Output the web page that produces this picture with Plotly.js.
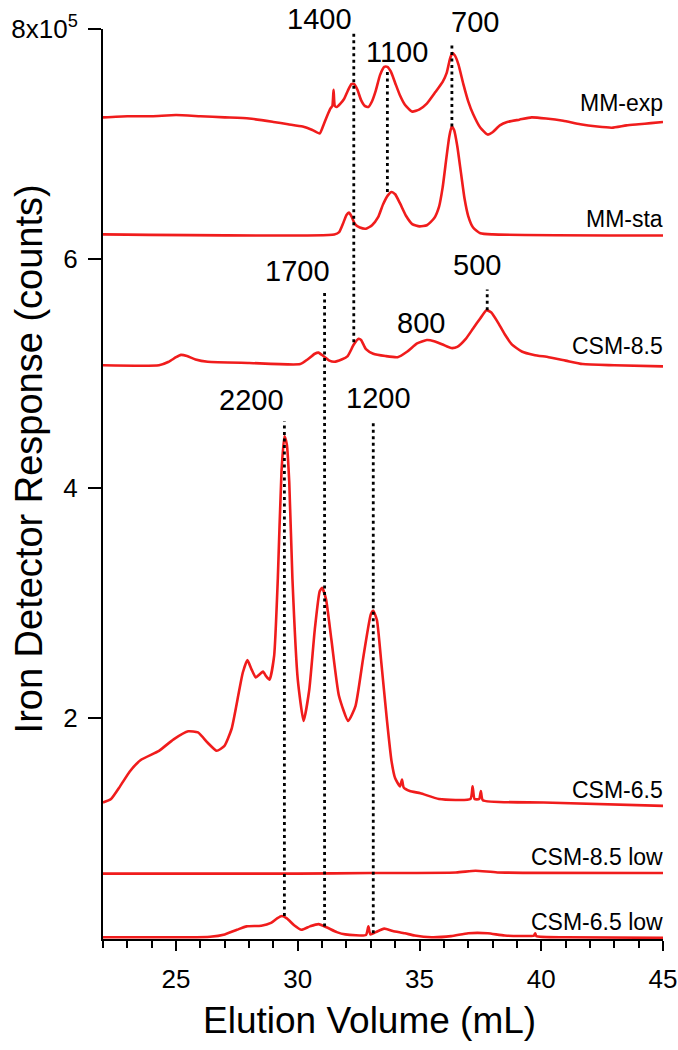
<!DOCTYPE html>
<html>
<head>
<meta charset="utf-8">
<script src="https://cdn.plot.ly/plotly-3.0.1.min.js"></script>
<style>
html,body{margin:0;padding:0;background:#ffffff;}
#chart{width:678px;height:1050px;}
</style>
</head>
<body>
<div id="chart"></div>
<script>
// ---- Data (elution volume in mL, response in units of 10^5 counts) ----
const mmExpX = [22,23,24,25,26,27,28,29,29.6,30.2,30.6,30.9,31.05,31.2,31.35,31.42,31.47,31.52,31.6,31.75,31.9,32.05,32.2,32.32,32.45,32.6,32.75,32.9,33.05,33.2,33.38,33.55,33.68,33.82,34.0,34.2,34.4,34.7,35.0,35.3,35.65,35.95,36.12,36.25,36.35,36.45,36.6,36.8,37.0,37.2,37.5,37.8,38.0,38.3,38.6,39.1,39.6,40.2,40.9,41.6,42.3,42.9,43.5,44.0,44.5,45];
const mmExpY = [7.23,7.24,7.24,7.25,7.24,7.23,7.22,7.19,7.17,7.15,7.12,7.09,7.16,7.24,7.31,7.33,7.47,7.33,7.32,7.35,7.39,7.46,7.52,7.52,7.47,7.38,7.33,7.32,7.37,7.46,7.60,7.67,7.67,7.63,7.53,7.42,7.34,7.28,7.30,7.35,7.45,7.54,7.62,7.74,7.79,7.77,7.69,7.52,7.37,7.26,7.14,7.08,7.10,7.16,7.19,7.21,7.23,7.22,7.20,7.17,7.15,7.14,7.16,7.17,7.18,7.19];

const mmStaX = [22,31.5,31.7,31.85,32.0,32.1,32.2,32.35,32.55,32.8,33.05,33.3,33.5,33.7,33.85,34.0,34.2,34.45,34.7,35.0,35.3,35.6,35.8,35.95,36.1,36.22,36.32,36.42,36.55,36.7,36.85,37.0,37.2,37.5,38,45];
const mmStaY = [6.21,6.21,6.23,6.30,6.38,6.40,6.37,6.30,6.27,6.26,6.29,6.36,6.47,6.55,6.58,6.56,6.48,6.37,6.30,6.28,6.29,6.35,6.45,6.62,6.87,7.06,7.15,7.12,6.98,6.75,6.52,6.37,6.27,6.22,6.21,6.20];

const csm85X = [22,24.3,24.7,25.0,25.2,25.45,25.8,26.3,28,30.1,30.4,30.7,30.85,31.05,31.3,31.5,31.8,32.05,32.3,32.5,32.6,32.8,33.1,33.6,34.1,34.5,34.9,35.3,35.6,35.95,36.3,36.55,36.9,37.2,37.5,37.75,37.95,38.2,38.5,38.8,39.2,39.7,40.3,41,41.7,43,45];
const csm85Y = [5.07,5.07,5.10,5.14,5.16,5.15,5.12,5.10,5.09,5.08,5.12,5.17,5.18,5.15,5.11,5.10,5.12,5.15,5.25,5.30,5.29,5.21,5.17,5.15,5.14,5.19,5.26,5.29,5.28,5.25,5.22,5.23,5.30,5.39,5.48,5.55,5.53,5.45,5.34,5.25,5.19,5.16,5.14,5.11,5.08,5.07,5.06];

const csm65X = [22,22.33,22.7,23.1,23.55,24.3,24.9,25.5,25.9,26.3,26.67,26.98,27.28,27.58,27.74,27.93,28.1,28.27,28.45,28.57,28.7,28.84,29.03,29.18,29.33,29.45,29.55,29.65,29.78,30.0,30.24,30.47,30.7,30.9,31.0,31.16,31.38,31.69,32.07,32.37,32.68,33.0,33.1,33.25,33.43,33.66,33.85,34.0,34.2,34.28,34.35,34.6,35.04,35.8,37.09,37.18,37.26,37.45,37.52,37.6,40.1,45];
const csm65Y = [1.26,1.29,1.40,1.53,1.63,1.71,1.81,1.88,1.87,1.78,1.71,1.75,1.90,2.22,2.39,2.50,2.42,2.35,2.38,2.40,2.36,2.33,2.54,3.21,4.14,4.45,4.38,4.05,3.21,2.33,1.97,2.24,2.77,3.10,3.13,3.03,2.68,2.19,1.97,2.10,2.51,2.90,2.93,2.85,2.48,1.98,1.62,1.47,1.40,1.46,1.39,1.36,1.34,1.29,1.29,1.40,1.29,1.29,1.36,1.28,1.26,1.23];

const csm85LowX = [22,30,33,36.5,37.3,38.2,45];
const csm85LowY = [0.64,0.64,0.645,0.65,0.665,0.65,0.645];

const csm65LowX = [22,26.4,27.0,27.5,27.9,28.5,28.9,29.15,29.35,29.55,29.85,30.15,30.5,30.85,31.2,31.6,31.95,32.8,32.9,32.98,33.2,33.55,33.9,34.4,34.8,35.5,36.3,37.0,37.8,38.5,39.7,39.75,39.8,41,45];
const csm65LowY = [0.085,0.09,0.11,0.15,0.18,0.185,0.21,0.25,0.27,0.25,0.19,0.15,0.18,0.20,0.17,0.13,0.11,0.105,0.18,0.11,0.13,0.16,0.14,0.12,0.10,0.085,0.095,0.12,0.12,0.10,0.10,0.12,0.095,0.085,0.08];

const seriesNames = ['MM-exp','MM-sta','CSM-8.5','CSM-6.5','CSM-8.5 low','CSM-6.5 low'];
const seriesX = [mmExpX, mmStaX, csm85X, csm65X, csm85LowX, csm65LowX];
const seriesY = [mmExpY, mmStaY, csm85Y, csm65Y, csm85LowY, csm65LowY];

// Peak markers (molecular weight labels): position in mL, dotted line top/bottom in 10^5 counts
const peakLabels = ['1400','1100','700','1700','500','800','2200','1200'];
const peakX      = [32.3, 33.68, 36.33, 31.1, 37.78, 35.05, 29.45, 33.1];
const peakTop    = [7.97, 7.65, 7.88, 5.71, 5.73, 5.29, 4.58, 4.58];
const peakBottom = [5.27, 6.58, 7.15, 0.18, 5.55, null, 0.27, 0.12];

const yTickVals = [2,4,6,8];
const yTickText = ['2','4','6','8x10<sup>5</sup>'];
const xTickVals = [25,30,35,40,45];

// ---- Styling ----
const RED = '#f01c1c';
const FONT = 'Arial, "Liberation Sans", Helvetica, sans-serif';
// label pixel offsets relative to the top of each marker line
const labelAnchor = ['right','center','left','center','center','center','center','center'];
const labelDx = [0, 10, -3, -27, -10, 0, -33, 5];
const labelDy = [13, 17, 21, 21, 24, 17, 21, 23];
// curve label pixel offsets above each series' right end
const nameDy = [19, 17, 20, 16, 16, 16];

const traces = seriesNames.map((n, i) => ({
  x: seriesX[i], y: seriesY[i], name: n, type: 'scatter', mode: 'lines',
  line: {color: RED, width: 2.6, shape: 'spline', smoothing: 0.5}, hoverinfo: 'skip'
}));

const shapes = [];
peakX.forEach((px, i) => {
  if (peakBottom[i] === null) return;
  shapes.push({type: 'line', xref: 'x', yref: 'y', x0: px, x1: px, y0: peakBottom[i], y1: peakTop[i],
    line: {color: '#000000', width: 2.8, dash: '3px,3.5px'}, layer: 'above'});
});

const annotations = [];
peakLabels.forEach((t, i) => {
  annotations.push({x: peakX[i], y: peakTop[i], xref: 'x', yref: 'y', text: t, showarrow: false,
    xanchor: labelAnchor[i], yanchor: 'middle', xshift: labelDx[i], yshift: labelDy[i],
    font: {family: FONT, size: 29, color: '#000'}});
});
seriesNames.forEach((n, i) => {
  const xs = seriesX[i], ys = seriesY[i];
  annotations.push({x: xs[xs.length - 1], y: ys[ys.length - 1], xref: 'x', yref: 'y', text: n, showarrow: false,
    xanchor: 'right', yanchor: 'middle', xshift: 2, yshift: nameDy[i],
    font: {family: FONT, size: 23, color: '#000'}});
});
// axis titles
annotations.push({xref: 'paper', yref: 'paper', x: 0.475, y: 0, yshift: -81, xanchor: 'center', yanchor: 'middle',
  text: 'Elution Volume (mL)', showarrow: false, font: {family: FONT, size: 37, color: '#000'}});
annotations.push({xref: 'paper', yref: 'paper', x: 0, y: 0.527, xshift: -74, xanchor: 'center', yanchor: 'middle',
  textangle: -90, text: 'Iron Detector Response (counts)', showarrow: false, font: {family: FONT, size: 38, color: '#000'}});

const layout = {
  width: 678, height: 1050,
  margin: {l: 103, r: 15, t: 29, b: 111, pad: 0},
  paper_bgcolor: '#ffffff', plot_bgcolor: '#ffffff',
  showlegend: false,
  font: {family: FONT, color: '#000'},
  xaxis: {
    range: [22, 45], tickmode: 'array', tickvals: xTickVals, ticks: 'outside', ticklen: 10, tickwidth: 2,
    tickcolor: '#000', showline: true, linewidth: 2, linecolor: '#000', showgrid: false, zeroline: false,
    tickfont: {family: FONT, size: 26, color: '#000'}, ticklabelstandoff: 6,
    minor: {dtick: 1, tick0: 22, ticks: 'outside', ticklen: 7, tickwidth: 2, tickcolor: '#000', showgrid: false}
  },
  yaxis: {
    range: [0.07, 8.0], tickmode: 'array', tickvals: yTickVals, ticktext: yTickText, ticks: 'outside',
    ticklen: 13, tickwidth: 2, tickcolor: '#000', showline: true, linewidth: 2, linecolor: '#000',
    showgrid: false, zeroline: false, tickfont: {family: FONT, size: 26, color: '#000'}, ticklabelstandoff: 5
  },
  shapes: shapes,
  annotations: annotations
};

Plotly.newPlot('chart', traces, layout, {displayModeBar: false, staticPlot: true});
</script>
</body>
</html>
